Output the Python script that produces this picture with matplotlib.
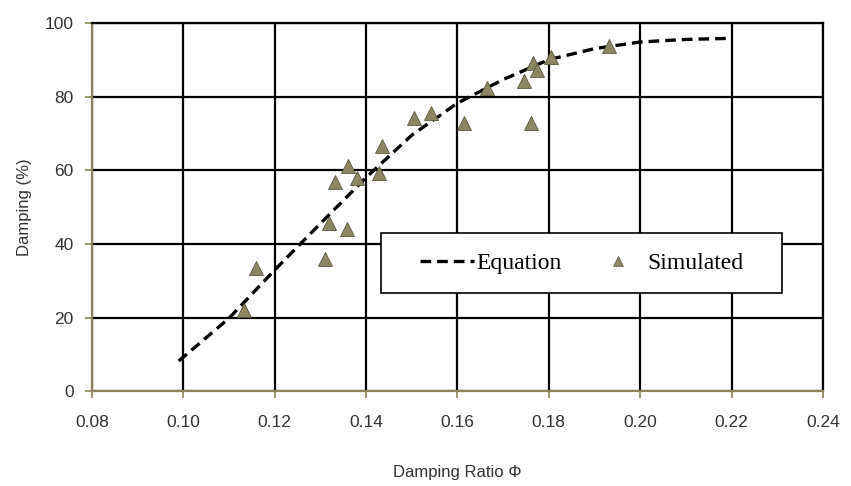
import matplotlib.pyplot as plt
from matplotlib.lines import Line2D
from matplotlib.patches import Rectangle

# =========================
# DATA
# =========================
eq_ratio = [0.099, 0.11, 0.12, 0.13, 0.14, 0.15, 0.16, 0.17, 0.18, 0.19, 0.20, 0.21, 0.22]
eq_damping = [8.2, 19.8, 32.9, 45.5, 58.0, 69.5, 78.2, 84.6, 90.0, 93.0, 94.8, 95.5, 95.8]

sim_ratio = [0.1133, 0.1159, 0.1310, 0.1319, 0.1358, 0.1332, 0.1360, 0.1380, 0.1428, 0.1435,
             0.1505, 0.1542, 0.1614, 0.1664, 0.1745, 0.1760, 0.1765, 0.1774, 0.1804, 0.1931]
sim_damping = [22.0, 33.4, 35.9, 45.6, 44.0, 56.8, 61.1, 57.9, 59.2, 66.6,
               74.2, 75.5, 72.8, 82.3, 84.2, 72.8, 89.1, 87.2, 90.8, 93.8]

x_ticks = [0.08, 0.10, 0.12, 0.14, 0.16, 0.18, 0.20, 0.22, 0.24]
y_ticks = [0, 20, 40, 60, 80, 100]

# =========================
# STYLE
# =========================
olive = "#8a8456"
marker_face = "#8c8762"
marker_edge = "#5c5840"
label_grey = "#333333"

fig = plt.figure(figsize=(8.51, 4.86), dpi=100)
ax = fig.add_axes([0.108, 0.195, 0.859, 0.758])

ax.set_xlim(0.08, 0.24)
ax.set_ylim(0, 100)
ax.set_xticks(x_ticks)
ax.set_yticks(y_ticks)
ax.set_xticklabels([f"{t:.2f}" for t in x_ticks])

ax.grid(True, color="black", linewidth=1.6, zorder=0)
ax.set_axisbelow(True)

for side in ["top", "right"]:
    ax.spines[side].set_color("black")
    ax.spines[side].set_linewidth(1.6)
for side in ["left", "bottom"]:
    ax.spines[side].set_color(olive)
    ax.spines[side].set_linewidth(1.6)

ax.tick_params(axis="both", colors=olive, length=5, width=1.2,
               labelcolor=label_grey, labelsize=12.5)
ax.tick_params(axis="x", pad=12)
ax.tick_params(axis="y", pad=8)
for lab in ax.get_xticklabels() + ax.get_yticklabels():
    lab.set_family("Liberation Sans")

# =========================
# PLOT
# =========================
ax.plot(eq_ratio, eq_damping, color="black", linewidth=2.4,
        dashes=(3.2, 1.8), zorder=3)
ax.plot(sim_ratio, sim_damping, linestyle="none", marker="^", markersize=10,
        markerfacecolor=marker_face, markeredgecolor=marker_edge,
        markeredgewidth=0.6, zorder=4)

ax.set_ylabel("Damping (%)", family="Liberation Sans", fontsize=12,
              color=label_grey, labelpad=9)
ax.set_xlabel("Damping Ratio \u03a6", family="Liberation Sans", fontsize=12,
              color=label_grey, labelpad=25)

# legend box
box = Rectangle((0.395, 0.266), 0.549, 0.163, transform=ax.transAxes,
                facecolor="white", edgecolor="black", linewidth=1.2, zorder=5)
ax.add_patch(box)

handles = [
    Line2D([], [], color="black", linewidth=2.4, dashes=(3.2, 1.8)),
    Line2D([], [], linestyle="none", marker="^", markersize=7,
           markerfacecolor=marker_face, markeredgecolor=marker_edge,
           markeredgewidth=0.5),
]
leg = ax.legend(handles, ["Equation", "Simulated"], ncol=2,
                loc="center", bbox_to_anchor=(0.670, 0.348),
                frameon=False, handlelength=2.3,
                handletextpad=0.12, columnspacing=1.2,
                prop={"family": "Liberation Serif", "size": 17})
leg.set_zorder(6)

plt.savefig("out.png", dpi=100)
plt.close()
